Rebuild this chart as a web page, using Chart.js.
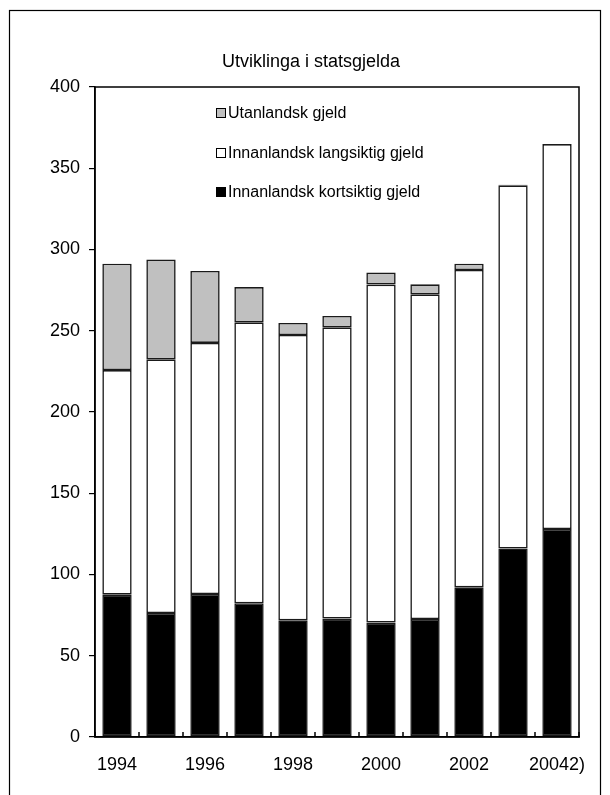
<!DOCTYPE html>
<html>
<head>
<meta charset="utf-8">
<script src="https://cdn.jsdelivr.net/npm/chart.js@4.4.1/dist/chart.umd.min.js"></script>
<style>
  html, body { margin: 0; padding: 0; background: #fff; }
  #wrap { width: 610px; height: 795px; position: relative; }
</style>
</head>
<body>
<div id="wrap"><canvas id="c" width="610" height="795"></canvas></div>
<script>
// Statsgjeld, mrd. kroner
const years = ['1994', '1995', '1996', '1997', '1998', '1999', '2000', '2001', '2002', '2003', '20042)'];
const kortsiktig = [87.6, 76.3, 88.0, 82.3, 71.8, 72.9, 70.4, 72.6, 92.1, 116.0, 128.0];
const langsiktig = [138.2, 156.1, 154.5, 172.9, 175.6, 179.2, 208.0, 199.8, 195.3, 223.5, 236.9];
const utanlandsk = [65.5, 61.4, 44.3, 21.7, 7.4, 7.0, 7.4, 6.2, 3.9, 0.4, 0];
const yTicks = [0, 50, 100, 150, 200, 250, 300, 350, 400];

const FONT = "'Liberation Sans', Arial, sans-serif";

// Frame around the plot, boundary ticks on the category axis, outer border and legend
const decorations = {
  id: 'decorations',
  afterDraw(chart) {
    const { ctx, chartArea: a, scales: { x } } = chart;
    ctx.save();
    ctx.strokeStyle = '#000';

    // outer border
    ctx.lineWidth = 1.2;
    ctx.strokeRect(9.5, 10.5, 591, 800);

    // plot frame
    ctx.lineWidth = 1.5;
    ctx.strokeRect(a.left, a.top, a.right - a.left, a.bottom - a.top);

    // tick marks between categories, pointing into the plot
    const step = x.getPixelForValue(1) - x.getPixelForValue(0);
    ctx.beginPath();
    for (let i = 0; i <= chart.data.labels.length; i++) {
      const px = Math.round(x.getPixelForValue(0) + (i - 0.5) * step);
      ctx.moveTo(px, a.bottom);
      ctx.lineTo(px, a.bottom - 5);
    }
    ctx.stroke();

    // legend, top series first
    const items = chart.data.datasets.slice().reverse();
    const rows = [113, 153, 192];
    ctx.font = '16px ' + FONT;
    ctx.textBaseline = 'middle';
    ctx.textAlign = 'left';
    items.forEach((ds, i) => {
      const y = rows[i];
      ctx.fillStyle = ds.backgroundColor;
      ctx.fillRect(216, y - 5, 10, 10);
      ctx.lineWidth = 1;
      ctx.strokeStyle = '#000';
      ctx.strokeRect(216.5, y - 4.5, 9, 9);
      ctx.fillStyle = '#000';
      ctx.fillText(ds.label, 228, y + 1);
    });
    ctx.restore();
  }
};

const barStyle = {
  borderColor: '#1a1a1a',
  borderWidth: 1.6,
  borderSkipped: false,
  barPercentage: 0.667,
  categoryPercentage: 1.0
};

new Chart(document.getElementById('c'), {
  type: 'bar',
  data: {
    labels: years,
    datasets: [
      Object.assign({ label: 'Innanlandsk kortsiktig gjeld', data: kortsiktig, backgroundColor: '#000000' }, barStyle),
      Object.assign({ label: 'Innanlandsk langsiktig gjeld', data: langsiktig, backgroundColor: '#ffffff' }, barStyle),
      Object.assign({ label: 'Utanlandsk gjeld', data: utanlandsk, backgroundColor: '#c0c0c0' }, barStyle)
    ]
  },
  options: {
    responsive: false,
    animation: false,
    devicePixelRatio: 1,
    layout: { padding: { left: 43, right: 31, top: 0, bottom: 0 } },
    plugins: {
      legend: { display: false },
      tooltip: { enabled: false },
      title: {
        display: true,
        text: 'Utviklinga i statsgjelda',
        color: '#000',
        font: { family: FONT, size: 18, weight: 'normal' },
        padding: { top: 51, bottom: 14.4 }
      }
    },
    scales: {
      x: {
        stacked: true,
        grid: { display: false },
        border: { display: true, color: '#000', width: 1.5 },
        ticks: {
          autoSkip: false,
          maxRotation: 0,
          color: '#000',
          padding: 9,
          font: { family: FONT, size: 18 },
          callback: (v, i) => (i % 2 === 0 ? years[i] : '')
        },
        afterFit: s => { s.height = 58; }
      },
      y: {
        stacked: true,
        min: 0,
        max: 400,
        afterBuildTicks: s => { s.ticks = yTicks.map(v => ({ value: v })); },
        grid: { display: true, drawOnChartArea: false, drawTicks: true, tickLength: 6, color: '#000', lineWidth: 1.2 },
        border: { display: true, color: '#000', width: 1.5 },
        ticks: {
          color: '#000',
          padding: 9,
          font: { family: FONT, size: 18 }
        },
        afterFit: s => { s.width = 52; }
      }
    }
  },
  plugins: [decorations]
});
</script>
</body>
</html>
